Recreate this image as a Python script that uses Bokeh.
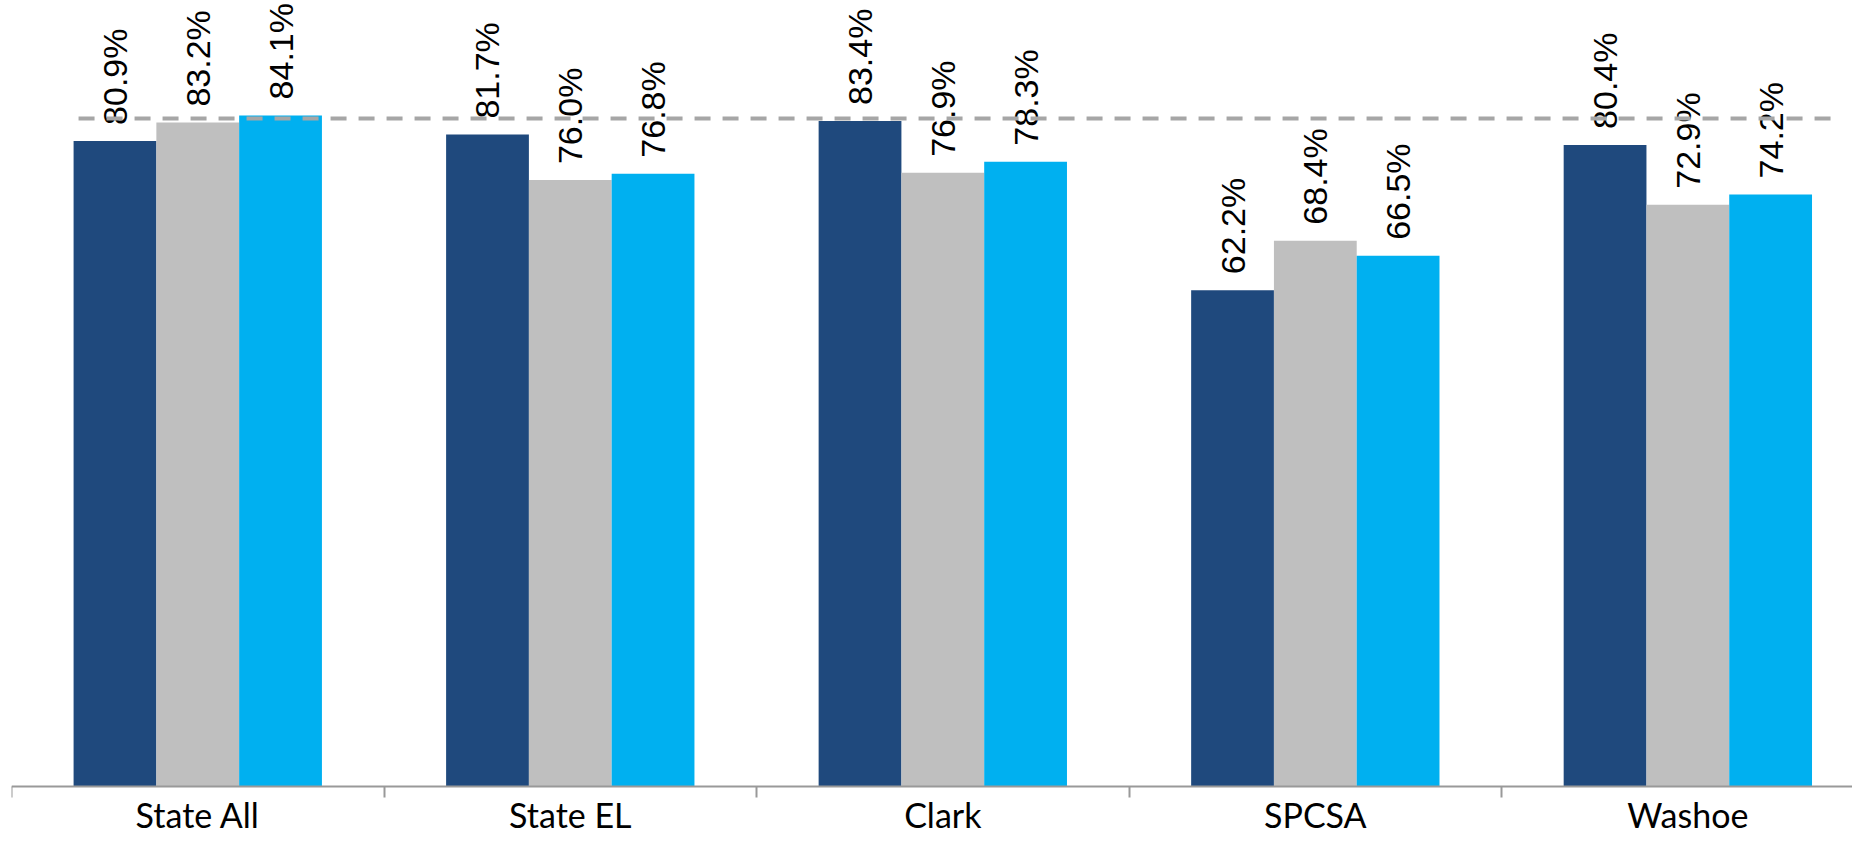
import numpy as np
from bokeh.plotting import figure
from bokeh.models import ColumnDataSource, FixedTicker, Range1d
from bokeh.core.properties import value
from bokeh.embed import file_html
from bokeh.resources import INLINE

# ---- data ----
categories = ["State All", "State EL", "Clark", "SPCSA", "Washoe"]
series_dark = [80.9, 81.7, 83.4, 62.2, 80.4]
series_grey = [83.2, 76.0, 76.9, 68.4, 72.9]
series_blue = [84.1, 76.8, 78.3, 66.5, 74.2]
benchmark = 83.7

colors = ["#1F497D", "#BFBFBF", "#00B0F0"]

p = figure(width=1852, height=836, output_backend="svg", toolbar_location=None,
           x_range=Range1d(0, 4.942), y_range=Range1d(-6.27, 98.5),
           y_axis_location=None,
           min_border_left=11, min_border_right=0, min_border_top=0, min_border_bottom=0)
p.grid.visible = False
p.outline_line_color = None

bar_w = 1 / 4.5
offsets = [-bar_w, 0.0, bar_w]
for vals, color, off in zip([series_dark, series_grey, series_blue], colors, offsets):
    xs = [i + 0.5 + off for i in range(len(categories))]
    src = ColumnDataSource(dict(x=xs, top=vals, label=[f"{v:.1f}%" for v in vals]))
    p.vbar(x="x", top="top", bottom=0, width=bar_w, source=src,
           fill_color=color, line_color=None)
    p.text(x="x", y="top", text="label", source=src, angle=np.pi / 2,
           text_align="left", text_baseline="middle", y_offset=-16,
           text_font=value("Liberation Sans"), text_font_size="34px", text_color="#000000")

p.line(x=[0.18, 4.885], y=[benchmark, benchmark], line_color="#A6A6A6",
       line_width=4, line_dash="16 12")

# category axis: line + boundary ticks at y = 0
ax = p.xaxis[0]
ax.fixed_location = 0
ax.ticker = FixedTicker(ticks=[], minor_ticks=list(range(len(categories) + 1)))
ax.major_tick_out = 0
ax.major_tick_in = 0
ax.minor_tick_out = 11
ax.minor_tick_in = 0
ax.major_label_standoff = 0
ax.axis_line_color = "#999999"
ax.axis_line_width = 2
ax.minor_tick_line_color = "#999999"
ax.minor_tick_line_width = 2

cat_src = ColumnDataSource(dict(x=[i + 0.5 for i in range(len(categories))],
                                y=[-3.5] * len(categories), text=categories))
p.text(x="x", y="y", text="text", source=cat_src,
       text_align="center", text_baseline="alphabetic",
       text_font=value("Lato"), text_font_size="34px", text_color="#000000")

open("out.html", "w").write(file_html(p, INLINE))
